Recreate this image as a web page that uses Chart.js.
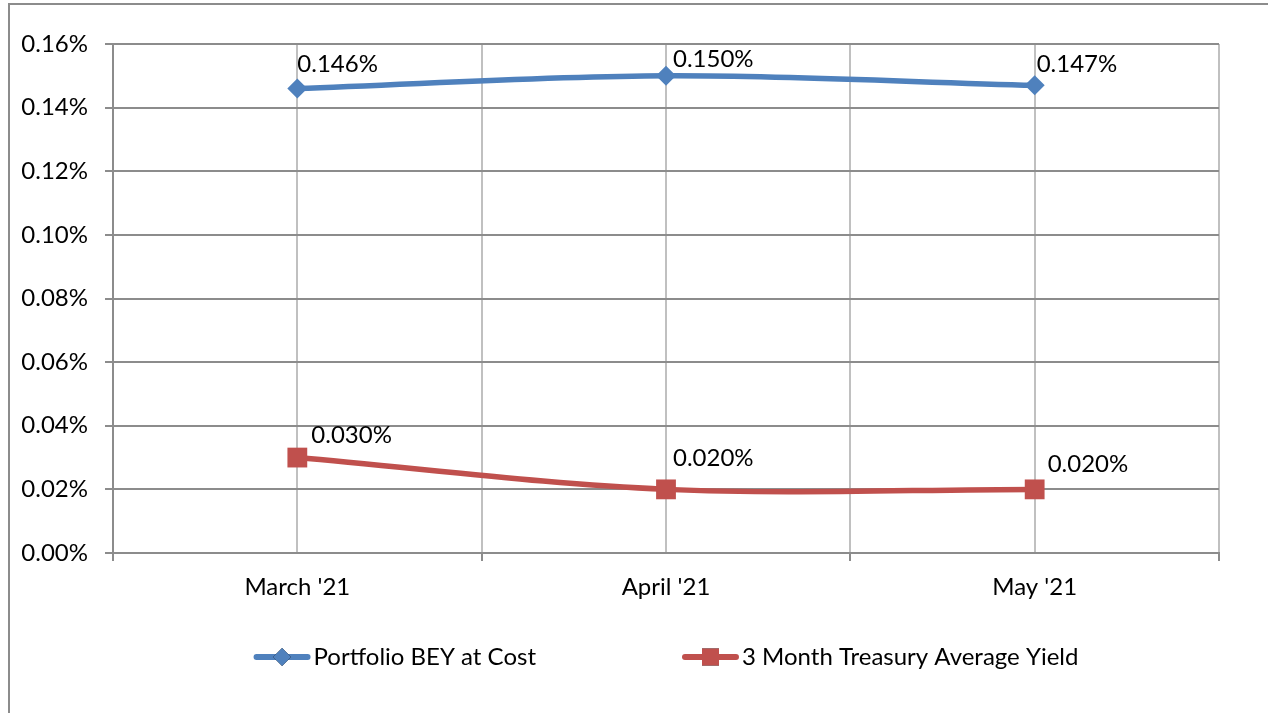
<!DOCTYPE html>
<html><head><meta charset="utf-8">
<script src="https://cdn.jsdelivr.net/npm/chart.js@4/dist/chart.umd.min.js"></script>
<style>
html,body{margin:0;padding:0;background:#fff;overflow:hidden}
#wrap{position:relative;width:1268px;height:713px}
#frame{position:absolute;left:8px;top:3px;width:1280px;height:740px;border:2px solid #8c8c8c;box-sizing:border-box}
canvas{position:absolute;left:0;top:0}
</style></head><body>
<div id="wrap"><div id="frame"></div><canvas id="c" width="1268" height="713"></canvas></div>
<script>
// ---- data ----
const categories = ["March '21", "April '21", "May '21"];
const seriesNames = ["Portfolio BEY at Cost", "3 Month Treasury Average Yield"];
const portfolioBEY = [0.146, 0.150, 0.147];
const treasuryYield = [0.030, 0.020, 0.020];
const yMin = 0, yMax = 0.16, yStep = 0.02;

// ---- style ----
const FONT = 'Lato';
const FSIZE = 24;
const colors = ['#4f81bd', '#c0504d'];
const pointStyles = ['rectRot', 'rect'];
const pointRadii = [10, 14];
const labelOffsets = [[[0, -17], [7, -9], [2, -13]], [[14, -15], [7, -23], [13, -17]]];

const seriesValues = [portfolioBEY, treasuryYield];

const datasets = seriesValues.map((vals, s) => ({
  label: seriesNames[s],
  data: vals.map((v, i) => ({x: i, y: v})),
  borderColor: colors[s],
  backgroundColor: colors[s],
  borderWidth: 5.5,
  pointStyle: pointStyles[s],
  pointRadius: pointRadii[s],
  pointHoverRadius: pointRadii[s],
  pointBorderWidth: 0,
  pointBackgroundColor: colors[s],
  tension: 0.33,
  fill: false
}));

const dataLabels = {
  id: 'dataLabels',
  afterDatasetsDraw(chart) {
    const ctx = chart.ctx;
    ctx.save();
    ctx.font = FSIZE + 'px ' + FONT;
    ctx.fillStyle = '#000';
    ctx.textAlign = 'left';
    ctx.textBaseline = 'alphabetic';
    chart.data.datasets.forEach((ds, s) => {
      const meta = chart.getDatasetMeta(s);
      meta.data.forEach((el, i) => {
        const off = labelOffsets[s][i];
        ctx.fillText(ds.data[i].y.toFixed(3) + '%', el.x + off[0], el.y + off[1]);
      });
    });
    ctx.restore();
  }
};

const customLegend = {
  id: 'customLegend',
  afterDraw(chart) {
    const ctx = chart.ctx;
    const area = chart.chartArea;
    ctx.save();
    ctx.font = FSIZE + 'px ' + FONT;
    const symW = 57, textGap = 3, itemGap = 146;
    const items = chart.data.datasets.map(ds => ({ds, w: symW + textGap + ctx.measureText(ds.label).width}));
    const total = items.reduce((a, it) => a + it.w, 0) + itemGap * (items.length - 1);
    let x = (area.left + area.right) / 2 - total / 2;
    const baseY = 665, midY = 657;
    items.forEach((it, s) => {
      const ds = it.ds;
      ctx.strokeStyle = ds.borderColor;
      ctx.lineWidth = 6;
      ctx.lineCap = 'round';
      ctx.beginPath();
      ctx.moveTo(x + 3, midY);
      ctx.lineTo(x + symW - 3, midY);
      ctx.stroke();
      Chart.helpers.drawPoint(ctx, {pointStyle: ds.pointStyle, radius: s === 0 ? 9 : 12, borderWidth: 0, rotation: 0}, x + symW / 2, midY);
      ctx.fillStyle = ds.backgroundColor;
      ctx.fill();
      ctx.fillStyle = '#000';
      ctx.textAlign = 'left';
      ctx.textBaseline = 'alphabetic';
      ctx.fillText(ds.label, x + symW + textGap, baseY);
      x += it.w + itemGap;
    });
    ctx.restore();
  }
};

new Chart(document.getElementById('c'), {
  type: 'line',
  data: {datasets},
  options: {
    responsive: false,
    animation: false,
    devicePixelRatio: 1,
    layout: {padding: {left: 0, top: 44, right: 49, bottom: 100}},
    plugins: {legend: {display: false}, tooltip: {enabled: false}},
    scales: {
      x: {
        type: 'linear',
        min: -0.5, max: 2.5,
        afterFit: s => { s.height = 60; },
        ticks: {
          stepSize: 0.5, autoSkip: false, maxRotation: 0,
          callback: v => Number.isInteger(v) ? categories[v] : '',
          color: '#000', font: {family: FONT, size: FSIZE}, padding: 12
        },
        grid: {
          color: '#c0c0c0', lineWidth: 2, tickLength: 8,
          tickColor: c => (c.tick && Number.isInteger(c.tick.value)) ? 'rgba(0,0,0,0)' : '#8c8c8c'
        },
        border: {color: '#8c8c8c', width: 2}
      },
      y: {
        min: yMin, max: yMax,
        afterFit: s => { s.width = 113; },
        ticks: {
          stepSize: yStep,
          callback: v => v.toFixed(2) + '%',
          color: '#000', font: {family: FONT, size: FSIZE}, padding: 17
        },
        grid: {color: '#8c8c8c', lineWidth: 2, tickLength: 8},
        border: {color: '#8c8c8c', width: 2}
      }
    }
  },
  plugins: [dataLabels, customLegend]
});
</script>
</body></html>
